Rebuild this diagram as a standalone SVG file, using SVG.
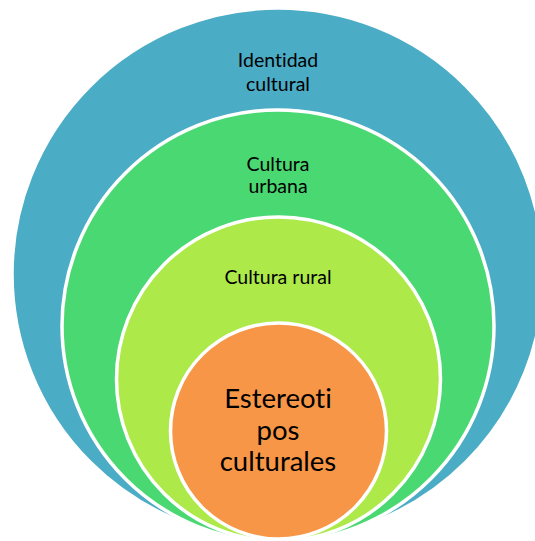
<svg xmlns="http://www.w3.org/2000/svg" width="535" height="541" viewBox="0 0 535 541">
<style>
.ring{stroke:#ffffff;stroke-width:3.5}
.lbl{font-family:Lato,"Open Sans","Liberation Sans",sans-serif;fill:#000000;text-anchor:middle;font-variant-ligatures:none}
.s{font-size:19.5px}
.b{font-size:27.5px}
</style>
<rect width="535" height="541" fill="#ffffff"/>
<g id="identidad">
<circle class="ring" cx="278" cy="274" r="266" fill="#4BACC6"/>
<text class="lbl s" x="278" y="67">Identidad</text>
<text class="lbl s" x="278" y="91">cultural</text>
</g>
<g id="urbana">
<circle class="ring" cx="278" cy="326" r="216" fill="#4AD872"/>
<text class="lbl s" x="278" y="171">Cultura</text>
<text class="lbl s" x="278" y="193">urbana</text>
</g>
<g id="rural">
<circle class="ring" cx="278.5" cy="379" r="162" fill="#ADE949"/>
<text class="lbl s" x="278" y="284">Cultura rural</text>
</g>
<g id="estereotipos">
<circle class="ring" cx="278.5" cy="431" r="108" fill="#F79646"/>
<text class="lbl b" x="278" y="408">Estereoti</text>
<text class="lbl b" x="278" y="440">pos</text>
<text class="lbl b" x="278" y="471">culturales</text>
</g>
<g id="connectors"/>
</svg>
